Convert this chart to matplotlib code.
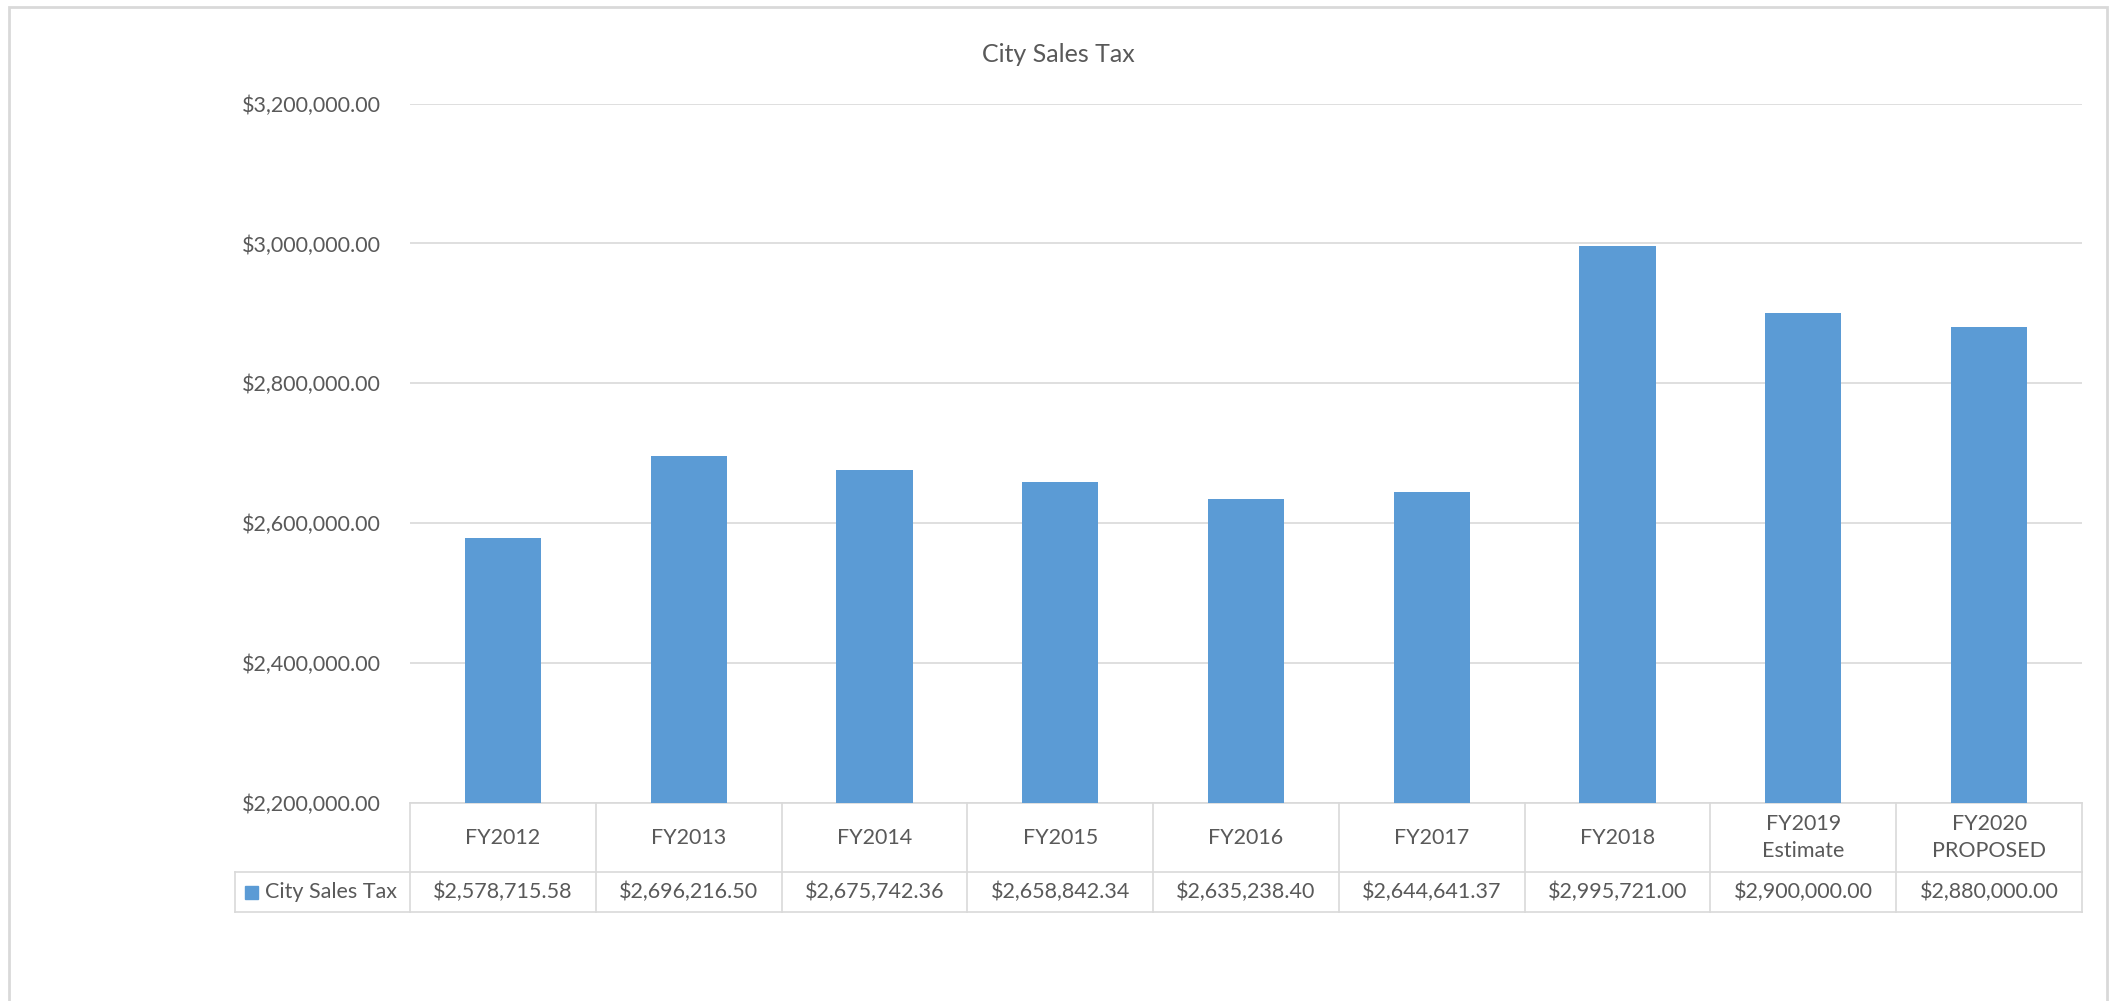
import numpy as np
import matplotlib
matplotlib.use('Agg')
import matplotlib.pyplot as plt
import matplotlib.transforms as mtransforms
from matplotlib.patches import Rectangle
from matplotlib.ticker import FuncFormatter

categories = ['FY2012', 'FY2013', 'FY2014', 'FY2015', 'FY2016', 'FY2017', 'FY2018',
              'FY2019\nEstimate', 'FY2020\nPROPOSED']
sales_tax = [2578715.58, 2696216.50, 2675742.36, 2658842.34, 2635238.40,
             2644641.37, 2995721.00, 2900000.00, 2880000.00]
series_name = 'City Sales Tax'
y_ticks = [2200000, 2400000, 2600000, 2800000, 3000000, 3200000]

bar_color = '#5B9BD5'
grid_color = '#D9D9D9'
text_color = '#595959'
fs = 15.5

plt.rcParams['font.family'] = ['Lato', 'DejaVu Sans']

W, H = 2109, 1001
fig = plt.figure(figsize=(W / 100, H / 100), dpi=100)

# plot area in pixel terms
left, right, top, bottom = 410, 2082, 103.6, 803
ax = fig.add_axes([left / W, 1 - bottom / H, (right - left) / W, (bottom - top) / H])

x = np.arange(len(categories))
ax.bar(x, sales_tax, width=0.41, color=bar_color, zorder=3)
ax.set_xlim(-0.5, len(categories) - 0.5)
ax.set_ylim(y_ticks[0], y_ticks[-1])
ax.set_yticks(y_ticks)
ax.yaxis.set_major_formatter(FuncFormatter(lambda v, p: '${:,.2f}'.format(v)))
ax.tick_params(axis='y', length=0, pad=21, labelsize=fs, labelcolor=text_color)
ax.set_xticks([])
ax.grid(axis='y', color=grid_color, linewidth=1.2, zorder=0)
for s in ax.spines.values():
    s.set_visible(False)

fig.text(1058 / W, 1 - 54 / H, 'City Sales Tax', ha='center', va='center',
         fontsize=18, color=text_color)

# data table under the plot
ph = bottom - top
row1 = -(872 - bottom) / ph
row2 = -(912 - bottom) / ph
leg_left = (235 - left) / (right - left) * len(categories) - 0.5
trans = mtransforms.blended_transform_factory(ax.transData, ax.transAxes)
lkw = dict(color=grid_color, linewidth=1.2, transform=trans, clip_on=False)

ax.plot([-0.5, len(categories) - 0.5], [0, 0], **lkw)
ax.plot([leg_left, len(categories) - 0.5], [row1, row1], **lkw)
ax.plot([leg_left, len(categories) - 0.5], [row2, row2], **lkw)
for b in np.arange(-0.5, len(categories), 1.0):
    ax.plot([b, b], [0, row2], **lkw)
ax.plot([leg_left, leg_left], [row1, row2], **lkw)

for i, (c, v) in enumerate(zip(categories, sales_tax)):
    ax.text(i, row1 / 2, c, ha='center', va='center', fontsize=fs,
            color=text_color, transform=trans, linespacing=1.45)
    ax.text(i, (row1 + row2) / 2, '${:,.2f}'.format(v), ha='center', va='center',
            fontsize=fs, color=text_color, transform=trans)

# legend key inside the table
fig.patches.append(Rectangle((245 / W, 1 - 899 / H), 13 / W, 13 / H,
                             transform=fig.transFigure, color=bar_color))
fig.text(265 / W, 1 - 892 / H, series_name, ha='left', va='center',
         fontsize=fs, color=text_color)

# outer chart border
fig.patches.append(Rectangle((9 / W, -0.05), (2107 - 9) / W, 1.05 - 7 / H,
                             transform=fig.transFigure, fill=False,
                             edgecolor=grid_color, linewidth=2))

fig.savefig('out.png', dpi=100, facecolor='white')
